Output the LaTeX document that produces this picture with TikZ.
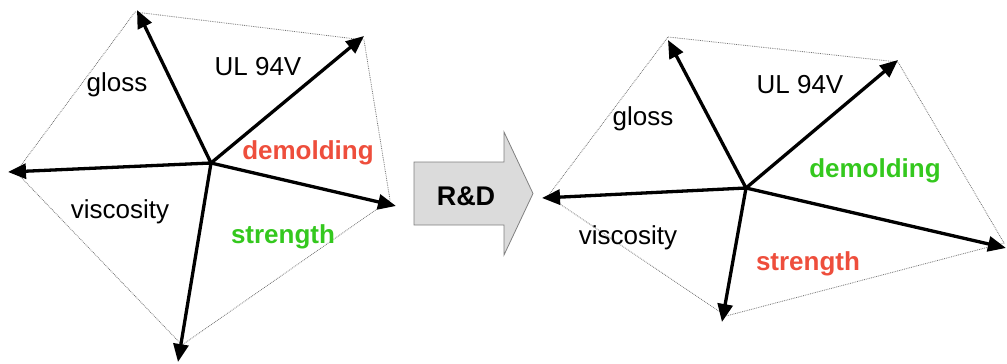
\documentclass[tikz,border=0pt]{standalone}
\usepackage{fontspec}
\setmainfont{Liberation Sans}
\usetikzlibrary{arrows.meta}
\definecolor{myred}{RGB}{238,78,60}
\definecolor{mygreen}{RGB}{52,200,30}
\begin{document}
\begin{tikzpicture}[x=1pt,y=-1pt,
  vec/.style={line width=3.3pt,-{Triangle[length=18pt,width=15pt]}},
  web/.style={densely dotted,black!55,line width=0.8pt},
  lbl/.style={font=\fontsize{26}{30}\selectfont,inner sep=0pt},
  blbl/.style={font=\fontsize{26}{30}\selectfont\bfseries,inner sep=0pt},
  rdbox/.style={fill=gray!28,draw=gray,line width=0.8pt}]
\useasboundingbox (0,0) rectangle (1007,364);
% ---------- left diagram ----------
\coordinate (c1) at (211,163);
\coordinate (l1) at (137,10);
\coordinate (l2) at (364,36);
\coordinate (l3) at (396,206);
\coordinate (l4) at (178,362);
\coordinate (l5) at (8,172);
\coordinate (p1) at (135,12);
\coordinate (p2) at (364,40);
\coordinate (p3) at (390,200);
\coordinate (p4) at (182,345);
\coordinate (p5) at (16,172);
\draw[web] (p1) -- (p2) -- (p3) -- (p4) -- (p5) -- cycle;
\foreach \t in {l1,l2,l3,l4,l5} \draw[vec] (c1) -- (\t);
\node[lbl] (g1) at (117,85) {gloss};
\node[lbl] (u1) at (258,67) {UL 94V};
\node[blbl,text=myred] (d1) at (308,153) {demolding};
\node[lbl] (v1) at (120,212) {viscosity};
\node[blbl,text=mygreen] (s1) at (283,237) {strength};
% ---------- R&D arrow ----------
\draw[rdbox] (414,162) -- (504,162) -- (504,132) -- (533,193.5) -- (504,255) -- (504,225) -- (414,225) -- cycle;
\node[blbl,font=\fontsize{27}{30}\selectfont\bfseries] (rd) at (466,196) {R\&D};
% ---------- right diagram ----------
\coordinate (c2) at (746,188);
\coordinate (r1) at (668,40);
\coordinate (r2) at (898,60);
\coordinate (r3) at (1006,248);
\coordinate (r4) at (722,322);
\coordinate (r5) at (542,198);
\coordinate (q1) at (668,37);
\coordinate (q2) at (898,62);
\coordinate (q3) at (1004,243);
\coordinate (q4) at (726,316);
\coordinate (q5) at (548,196);
\draw[web] (q1) -- (q2) -- (q3) -- (q4) -- (q5) -- cycle;
\foreach \t in {r1,r2,r3,r4,r5} \draw[vec] (c2) -- (\t);
\node[lbl] (g2) at (643,119) {gloss};
\node[lbl] (u2) at (800,85) {UL 94V};
\node[blbl,text=mygreen] (d2) at (875,171) {demolding};
\node[lbl] (v2) at (628,238) {viscosity};
\node[blbl,text=myred] (s2) at (808,264) {strength};
\end{tikzpicture}
\end{document}
